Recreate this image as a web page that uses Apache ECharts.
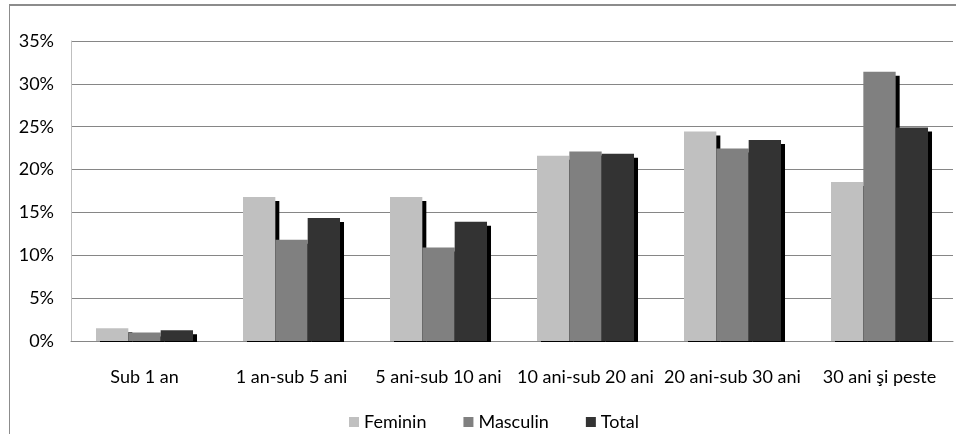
<!DOCTYPE html>
<html><head><meta charset="utf-8">
<script src="https://cdn.jsdelivr.net/npm/echarts@6/dist/echarts.min.js"></script>
<style>html,body{margin:0;padding:0;background:#fff}#c{width:956px;height:434px}</style>
</head><body><div id="c"></div>
<script>
const categories = ['Sub 1 an', '1 an-sub 5 ani', '5 ani-sub 10 ani', '10 ani-sub 20 ani', '20 ani-sub 30 ani', '30 ani şi peste'];
const seriesNames = ['Feminin', 'Masculin', 'Total'];
const feminin = [1.5, 16.8, 16.8, 21.6, 24.45, 18.55];
const masculin = [1.0, 11.8, 10.9, 22.1, 22.45, 31.4];
const total = [1.25, 14.35, 13.9, 21.85, 23.45, 24.9];
const yTicks = [0, 5, 10, 15, 20, 25, 30, 35];

const colors = ['#c0c0c0', '#808080', '#333333'];
const font = 'Lato';
const chart = echarts.init(document.getElementById('c'), null, {renderer: 'canvas'});
const mk = (name, data, i) => ({
  name, type: 'bar', data, barGap: '0%', barCategoryGap: '34%',
  itemStyle: {color: colors[i],
    shadowColor: '#000', shadowBlur: 0, shadowOffsetX: 4, shadowOffsetY: 4},
  emphasis: {disabled: true}
});
chart.setOption({
  animation: false,
  grid: {left: 71, right: 3, top: 41, bottom: 93},
  xAxis: {type: 'category', data: categories,
    axisLine: {lineStyle: {color: '#868686', width: 1}}, axisTick: {show: false},
    axisLabel: {color: '#000', fontFamily: font, fontSize: 18, margin: 27, interval: 0}},
  yAxis: {type: 'value', min: yTicks[0], max: yTicks[yTicks.length - 1], interval: 5,
    axisLine: {show: true, lineStyle: {color: '#bfbfbf'}}, axisTick: {show: false},
    splitLine: {lineStyle: {color: '#868686'}},
    axisLabel: {formatter: '{value}%', color: '#000', fontFamily: font, fontSize: 18, margin: 17}},
  legend: {bottom: -2, left: 344, itemWidth: 10, itemHeight: 10, itemGap: 37,
    icon: 'rect', textStyle: {fontFamily: font, fontSize: 18, color: '#000'},
    data: seriesNames},
  graphic: [
    {type: 'rect', z: 100, shape: {x: 71, y: 342, width: 885, height: 6}, style: {fill: '#fff'}},
    {type: 'line', z: 100, shape: {x1: 9, y1: 5, x2: 956, y2: 5}, style: {stroke: '#8c8c8c', lineWidth: 2}},
    {type: 'line', z: 100, shape: {x1: 9.5, y1: 5, x2: 9.5, y2: 434}, style: {stroke: '#8c8c8c', lineWidth: 1}}
  ],
  series: [mk(seriesNames[0], feminin, 0), mk(seriesNames[1], masculin, 1), mk(seriesNames[2], total, 2)]
});
</script></body></html>
